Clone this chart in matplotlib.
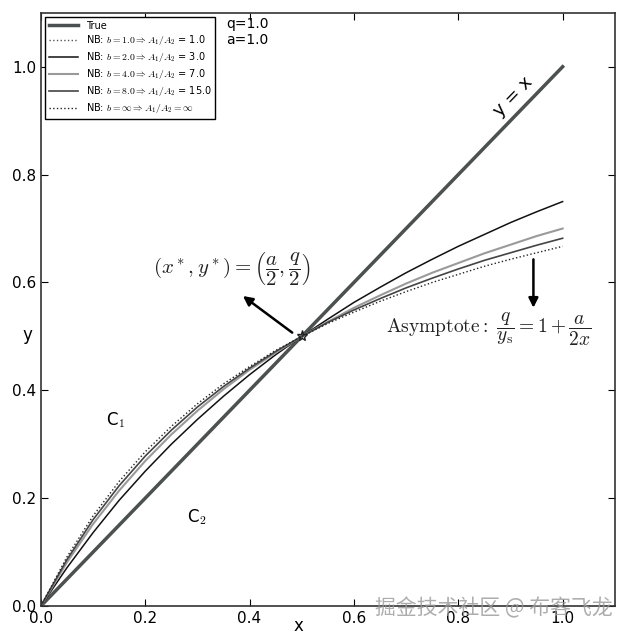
import matplotlib
matplotlib.use("Agg")
import matplotlib.pyplot as plt

plt.rcParams['mathtext.fontset'] = 'cm'

# x grid where the curves were read
xs = [0.0, 0.05, 0.1, 0.15, 0.2, 0.25, 0.3, 0.35, 0.4, 0.45, 0.5,
      0.55, 0.6, 0.65, 0.7, 0.75, 0.8, 0.85, 0.9, 0.95, 1.0]

true_y = [0.0, 0.05, 0.1, 0.15, 0.2, 0.25, 0.3, 0.35, 0.4, 0.45, 0.5,
          0.55, 0.6, 0.65, 0.7, 0.75, 0.8, 0.85, 0.9, 0.95, 1.0]
nb_b1 = [0.0, 0.05, 0.1, 0.15, 0.2, 0.25, 0.3, 0.35, 0.4, 0.45, 0.5,
         0.55, 0.6, 0.65, 0.7, 0.75, 0.8, 0.85, 0.9, 0.95, 1.0]
nb_b2 = [0.0, 0.071, 0.136, 0.196, 0.25, 0.3, 0.346, 0.389, 0.429, 0.466, 0.5,
         0.532, 0.563, 0.591, 0.618, 0.643, 0.667, 0.689, 0.711, 0.731, 0.75]
nb_b4 = [0.0, 0.081, 0.152, 0.214, 0.269, 0.318, 0.362, 0.402, 0.438, 0.470, 0.5,
         0.527, 0.553, 0.576, 0.598, 0.618, 0.636, 0.654, 0.670, 0.686, 0.70]
nb_b8 = [0.0, 0.086, 0.160, 0.223, 0.278, 0.326, 0.369, 0.407, 0.441, 0.472, 0.5,
         0.526, 0.549, 0.570, 0.590, 0.608, 0.625, 0.641, 0.655, 0.669, 0.682]
nb_inf = [0.0, 0.091, 0.167, 0.231, 0.286, 0.333, 0.375, 0.412, 0.444, 0.474, 0.5,
          0.524, 0.545, 0.565, 0.583, 0.60, 0.615, 0.630, 0.643, 0.655, 0.667]

fig = plt.figure(figsize=(6.28, 6.40), dpi=100)
ax = fig.add_axes([0.065, 0.053, 0.914, 0.927])

ax.plot(xs, true_y, color='#4a5050', lw=2.5, label='True')
ax.plot(xs, nb_b1, color='#555555', lw=1, ls=':', label=r'NB: $b=1.0 \Rightarrow A_1/A_2$ = 1.0')
ax.plot(xs, nb_b2, color='#111111', lw=1.1, label=r'NB: $b=2.0 \Rightarrow A_1/A_2$ = 3.0')
ax.plot(xs, nb_b4, color='#9a9a9a', lw=1.5, label=r'NB: $b=4.0 \Rightarrow A_1/A_2$ = 7.0')
ax.plot(xs, nb_b8, color='#444444', lw=1.2, label=r'NB: $b=8.0 \Rightarrow A_1/A_2$ = 15.0')
ax.plot(xs, nb_inf, color='#222222', lw=1, ls=':', label=r'NB: $b=\infty \Rightarrow A_1/A_2=\infty$')

ax.plot([0.5], [0.5], marker='*', color='#222222', ms=8, mfc='none')

ax.set_xlim(0, 1.1)
ax.set_ylim(0, 1.1)
ax.set_xticks([0.0, 0.2, 0.4, 0.6, 0.8, 1.0])
ax.set_yticks([0.0, 0.2, 0.4, 0.6, 0.8, 1.0])
ax.tick_params(direction='in', top=True, right=True, labelsize=11, length=5)
for s in ax.spines.values():
    s.set_linewidth(1.2)
    s.set_color('#333333')
ax.set_xlabel('x', fontsize=12, va='center')
ax.set_ylabel('y', fontsize=12, rotation=0, ha='center', va='center')
ax.xaxis.set_label_coords(0.448, -0.033)
ax.yaxis.set_label_coords(-0.024, 0.457)

leg = ax.legend(loc='upper left', fontsize=7, fancybox=False, edgecolor='black',
                framealpha=1, borderaxespad=0.4, handlelength=3, labelspacing=0.3)
leg.get_frame().set_linewidth(1)

ax.text(0.355, 1.065, 'q=1.0\na=1.0', fontsize=10, va='center', linespacing=1.2)
ax.text(0.905, 0.945, 'y = x', fontsize=13, rotation=46, ha='center', va='center')

ax.annotate('', xy=(0.383, 0.578), xytext=(0.486, 0.504),
            arrowprops=dict(arrowstyle='-|>', color='black', lw=1.8, mutation_scale=14))
ax.text(0.365, 0.625, r'$(x^*, y^*) = \left(\dfrac{a}{2}, \dfrac{q}{2}\right)$',
        fontsize=15, ha='center', va='center', color='#222222')

ax.annotate('', xy=(0.944, 0.548), xytext=(0.944, 0.648),
            arrowprops=dict(arrowstyle='-|>', color='black', lw=1.8, mutation_scale=14))
ax.text(0.662, 0.513, r'$\mathrm{Asymptote:}\ \dfrac{q}{y_\mathrm{s}} =1 + \dfrac{a}{2x}$',
        fontsize=14, ha='left', va='center', color='#222222')

ax.text(0.125, 0.345, r'C$_\mathsf{1}$', fontsize=12, ha='left', va='center')
ax.text(0.28, 0.165, r'C$_\mathsf{2}$', fontsize=12, ha='left', va='center')

fig.text(0.975, 0.05, '掘金技术社区 @ 布客飞龙', fontsize=15, color='#999999', alpha=0.8,
         ha='right', va='center', family=['Noto Sans CJK SC', 'DejaVu Sans'])

fig.savefig('out.png', dpi=100)
